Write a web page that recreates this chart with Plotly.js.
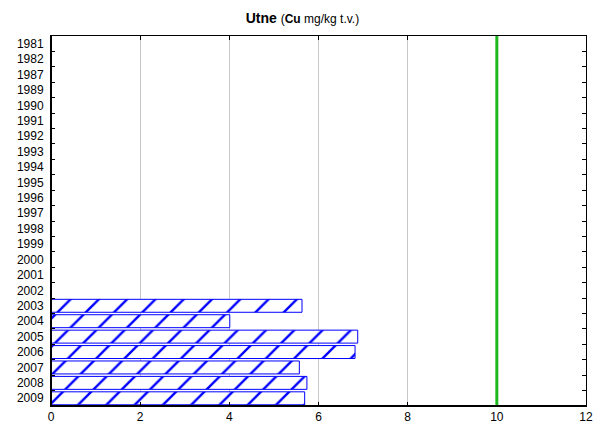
<!DOCTYPE html>
<html>
<head>
<meta charset="utf-8">
<script src="https://cdn.plot.ly/plotly-3.0.1.min.js"></script>
<style>html,body{margin:0;padding:0;background:#fff}#chart{width:593px;height:426px}</style>
</head>
<body>
<div id="chart"></div>
<script>
const years = ["1981","1982","1987","1989","1990","1991","1992","1993","1994","1995","1996","1997","1998","1999","2000","2001","2002","2003","2004","2005","2006","2007","2008","2009"];
const barYears = ["2003","2004","2005","2006","2007","2008","2009"];
const cuValues = [5.63, 4.01, 6.88, 6.82, 5.57, 5.74, 5.69];
const limitValue = 10;
const xTicks = [0, 2, 4, 6, 8, 10, 12];

const traces = [
  {
    type: "bar",
    orientation: "h",
    x: cuValues,
    y: barYears,
    marker: {
      color: "#ffffff",
      line: {color: "#0000ff", width: 1},
      pattern: {shape: "/", fgcolor: "#0000ff", bgcolor: "#ffffff", size: 20, solidity: 0.12, fillmode: "replace"}
    },
    hoverinfo: "x+y",
    showlegend: false
  }
];

const layout = {
  width: 593,
  height: 426,
  margin: {l: 51, r: 7, t: 36, b: 20},
  paper_bgcolor: "#ffffff",
  plot_bgcolor: "#ffffff",
  font: {family: "Liberation Sans, Arial, sans-serif", color: "#000000", size: 12},
  title: {
    text: "<b>Utne</b> <span style='font-size:12px'>(<b>Cu</b> mg/kg t.v.)</span>",
    font: {size: 14, color: "#000000"},
    x: 0.51, xanchor: "center", y: 0.958, yanchor: "middle"
  },
  bargap: 0.16,
  xaxis: {
    range: [0, 12],
    tickvals: xTicks,
    ticktext: xTicks.map(String),
    showgrid: true,
    gridcolor: "#c8c8c8",
    gridwidth: 1,
    zeroline: false,
    showline: true,
    linecolor: "#000000",
    linewidth: 1,
    mirror: "allticks",
    ticks: "inside",
    ticklen: 4,
    tickcolor: "#000000",
    tickfont: {size: 12}
  },
  yaxis: {
    type: "category",
    categoryorder: "array",
    categoryarray: years,
    range: [years.length - 0.5, -0.5],
    showgrid: false,
    zeroline: false,
    showline: true,
    linecolor: "#000000",
    linewidth: 1,
    mirror: "allticks",
    ticks: "inside",
    tickson: "boundaries",
    ticklen: 4,
    tickcolor: "#000000",
    tickfont: {size: 12},
    ticklabelstandoff: 4
  },
  shapes: [
    {type: "line", xref: "x", yref: "paper", x0: limitValue, x1: limitValue, y0: 0, y1: 1, line: {color: "#1cb81c", width: 3}},
    {type: "line", xref: "paper", yref: "paper", x0: 0, x1: 1, y0: 0, y1: 0, line: {color: "#000000", width: 2}},
    {type: "line", xref: "paper", yref: "paper", x0: 0, x1: 0, y0: 0, y1: 1, line: {color: "#000000", width: 2}}
  ]
};

Plotly.newPlot("chart", traces, layout, {displayModeBar: false, staticPlot: true});
</script>
</body>
</html>
